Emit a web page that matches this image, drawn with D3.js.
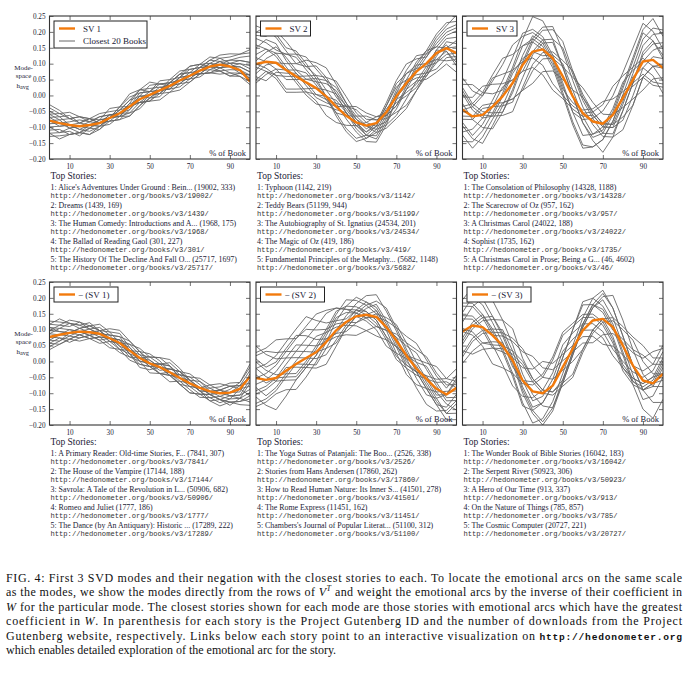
<!DOCTYPE html>
<html>
<head>
<meta charset="utf-8">
<script src="https://cdn.jsdelivr.net/npm/d3@7"></script>
<style>
body { margin: 0; background: #fff; }
svg text { font-family: "Liberation Serif", "Times New Roman", serif; }
svg text.mono, svg tspan.mono { font-family: "Liberation Mono", "DejaVu Sans Mono", monospace; }
</style>
</head>
<body>
<div id="svgdiv"></div>
<script>
// % of book sample points
var pct = [0,5,10,15,20,25,30,35,40,45,50,55,60,65,70,75,80,85,90,95,100];
var yTicks = [-0.20,-0.15,-0.10,-0.05,0.00,0.05,0.10,0.15,0.20,0.25];
var xTicks = [10,30,50,70,90];

// modes (orange)
var sv1  = [-0.079,-0.087,-0.093,-0.097,-0.093,-0.087,-0.071,-0.056,-0.035,-0.012,0.002,0.016,0.030,0.047,0.062,0.078,0.091,0.097,0.091,0.080,0.044];
var sv2  = [0.099,0.106,0.103,0.080,0.060,0.041,0.023,-0.003,-0.035,-0.064,-0.085,-0.095,-0.087,-0.053,-0.003,0.039,0.075,0.101,0.133,0.149,0.133];
var sv3  = [-0.045,-0.066,-0.061,-0.035,-0.003,0.039,0.096,0.138,0.145,0.117,0.060,-0.003,-0.056,-0.082,-0.089,-0.061,-0.008,0.049,0.107,0.112,0.086];
var nsv1 = [0.077,0.084,0.090,0.094,0.092,0.087,0.073,0.058,0.034,0.011,-0.006,-0.018,-0.034,-0.052,-0.069,-0.083,-0.094,-0.100,-0.098,-0.086,-0.048];
var nsv2 = [-0.052,-0.058,-0.052,-0.029,-0.008,0.011,0.029,0.061,0.098,0.124,0.142,0.147,0.140,0.108,0.066,0.019,-0.023,-0.055,-0.086,-0.104,-0.083];
var nsv3 = [0.094,0.113,0.108,0.082,0.050,0.003,-0.060,-0.094,-0.100,-0.076,-0.018,0.040,0.098,0.129,0.134,0.108,0.050,-0.013,-0.060,-0.069,-0.039];

// closest books, as offsets from the mode in hundredths
var off1 = [
 [3,2,3,1,2,0,1,-1,0,2,1,0,-1,1,0,-1,0,1,2,3,6],
 [-4,-3,-2,-3,-1,-2,0,1,2,1,3,2,1,0,-1,-2,-1,0,1,2,4],
 [5,4,2,3,1,2,1,0,-2,-1,0,-1,0,1,2,1,2,3,4,5,9],
 [-2,-3,-1,0,-1,1,0,2,3,2,1,3,2,1,0,-1,-2,-3,-2,-1,1],
 [1,0,-1,-2,-3,-2,-1,-2,-3,-2,-1,0,1,2,1,0,1,-1,0,1,3],
 [-5,-4,-3,-2,-1,0,1,0,-1,0,1,2,0,-1,-2,-1,0,1,0,-1,2],
 [2,3,4,3,2,1,0,-1,1,3,4,2,1,2,3,2,1,0,2,4,8],
 [0,-1,0,1,2,3,2,1,0,-1,-2,-3,-2,-1,0,1,0,-1,-2,-2,0],
 [-3,-2,-3,-2,0,-1,-2,-1,0,-1,-2,-1,-2,-3,-2,-1,-2,-1,0,1,3],
 [4,3,2,1,0,-1,0,1,2,3,2,1,0,-1,0,1,2,1,0,2,5],
 [-1,0,1,2,1,0,-1,-2,-1,1,0,-1,1,2,1,-1,-2,-2,-1,0,2],
 [1,2,0,-1,-2,-1,0,2,4,3,1,0,-1,0,1,2,3,2,3,5,10],
 [-4,-5,-3,-2,-3,-1,0,-1,-2,-3,-1,0,1,0,-1,0,-1,-2,-3,-2,-1],
 [2,1,2,3,2,0,-1,0,1,-1,-2,0,2,3,2,1,0,-1,1,3,6],
 [0,1,-1,0,1,2,1,-1,-3,-2,0,1,-1,-2,-1,0,1,2,1,0,1],
 [-2,-1,0,-1,0,1,3,2,0,1,-1,-2,0,1,3,2,0,-2,-3,-1,2]
];
var off2 = [
 [8,6,4,5,7,8,6,5,3,2,0,-2,-1,2,4,3,1,-1,-3,-2,0],
 [-5,-3,-4,-6,-4,-2,0,2,4,3,1,0,-2,-4,-6,-5,-3,-1,1,3,5],
 [12,10,8,6,4,5,7,6,4,1,-2,-4,-3,-1,1,0,-2,-4,-3,0,4],
 [2,0,-2,-3,-1,1,3,5,6,4,2,3,1,-2,-5,-7,-6,-4,-2,-1,-3],
 [-2,1,3,5,6,4,2,0,-3,-5,-6,-4,-2,0,2,4,5,3,2,4,7],
 [5,7,6,3,1,-1,-3,-2,0,3,5,4,2,-1,-3,-2,0,2,4,6,9],
 [0,-2,-4,-2,0,2,4,6,8,6,3,1,-1,-3,-4,-2,-3,-5,-6,-5,-6],
 [-6,-4,-2,0,2,3,1,-1,-2,0,2,0,-3,-5,-7,-8,-6,-3,-1,2,3],
 [9,8,10,9,7,5,4,2,1,-1,-3,-5,-6,-4,-1,1,3,4,6,8,10],
 [3,4,2,0,-2,-4,-5,-3,-1,1,-1,-3,-4,-2,1,3,2,0,-2,-4,-2],
 [-3,-1,0,2,4,7,8,9,7,4,1,-1,0,2,3,1,-1,-3,-5,-3,-1],
 [6,4,3,1,-1,-3,-2,0,2,1,-1,-2,0,3,5,6,4,2,3,5,8],
 [-1,-3,-5,-7,-5,-3,-4,-6,-5,-3,-1,1,2,0,-2,-4,-5,-3,0,1,-2],
 [10,11,9,7,8,6,3,0,-2,-4,-5,-3,-1,1,0,-1,1,3,5,7,12],
 [1,3,5,4,2,1,2,4,5,3,0,-3,-5,-3,-1,-3,-4,-2,1,-1,-4],
 [-4,-6,-3,-1,1,0,-2,-1,1,3,4,2,1,-1,-3,-1,2,4,2,0,2]
];
var off3 = [
 [10,8,6,8,10,12,9,6,3,0,-3,-5,-2,1,4,6,8,10,12,9,6],
 [-8,-10,-7,-4,-2,-5,-8,-10,-7,-4,-1,2,5,3,0,-3,-6,-8,-5,-2,0],
 [4,6,9,7,4,1,-2,0,3,6,9,7,4,1,-3,-6,-4,-1,2,5,8],
 [-3,-1,2,0,-3,-6,-4,-1,2,5,3,0,-3,-6,-9,-7,-4,-1,3,6,4],
 [7,4,1,-2,-5,-3,0,3,6,9,11,8,5,2,-1,-4,-2,1,-2,-5,-8],
 [-10,-8,-5,-2,1,4,6,4,1,-2,-5,-8,-10,-8,-5,-2,1,4,7,10,12],
 [2,-1,-4,-7,-5,-2,1,4,7,10,8,5,2,-1,-4,-7,-10,-8,-5,-2,1],
 [0,3,6,9,7,4,1,-2,-5,-8,-6,-3,0,3,6,9,7,4,1,-2,-4],
 [-5,-7,-9,-6,-3,0,3,5,2,-1,-4,-2,1,4,7,5,2,-1,-4,-7,-5],
 [8,10,7,4,2,5,8,11,9,6,3,0,-3,-5,-3,0,3,6,9,6,3],
 [-2,0,3,1,-2,-5,-8,-6,-3,0,3,6,8,6,3,0,-3,-6,-9,-6,-3],
 [5,2,-1,2,5,8,10,7,4,1,-2,-5,-7,-4,-1,2,5,3,0,3,7],
 [-7,-4,-1,-3,-6,-9,-7,-4,-1,2,5,8,6,3,0,-3,-1,2,5,8,11],
 [1,4,7,10,12,9,6,3,0,-3,-6,-9,-11,-8,-5,-2,1,-2,-5,-8,-6],
 [-4,-6,-3,0,3,1,-2,-5,-8,-10,-7,-4,-1,2,-1,-4,-7,-5,-2,1,3],
 [6,3,0,-3,0,3,2,0,-2,1,4,2,-1,-4,-2,1,4,7,10,13,10]
];
var off4 = [
 [4,3,2,3,1,0,-1,0,2,1,0,-1,1,2,1,0,-1,-2,-3,-4,-6],
 [-3,-2,-1,0,1,2,1,-1,-2,-1,0,1,2,1,0,-1,0,1,2,1,-2],
 [5,4,3,2,3,1,0,-1,0,1,2,3,2,0,-1,-2,-3,-2,-1,-3,-8],
 [-2,-3,-2,-1,0,-1,-2,-3,-2,0,1,0,-1,-2,-1,0,1,2,3,2,3],
 [1,2,3,2,1,0,1,2,3,2,1,0,-1,-2,-3,-2,-1,0,-1,-2,-4],
 [3,1,0,-1,-2,-1,0,1,0,-1,-3,-2,0,1,2,3,2,1,0,1,2],
 [-1,0,1,0,-1,-2,-3,-2,-1,0,2,3,4,3,1,0,-1,-2,-3,-5,-9],
 [2,3,4,3,2,1,2,3,1,0,-1,-2,-1,0,1,2,1,0,1,2,4],
 [0,-1,-2,-3,-2,-1,0,1,2,3,2,1,0,-1,-2,-3,-2,-1,-2,-3,-5],
 [-4,-3,-2,-1,-2,-3,-1,0,1,0,-1,0,1,2,3,2,0,-1,0,-1,1],
 [2,1,0,1,2,3,2,0,-1,-2,-1,1,2,0,-1,0,2,3,2,0,-3],
 [-2,-1,-3,-2,-1,0,1,2,0,-1,0,-2,-3,-1,0,-1,-2,-3,-2,0,-6],
 [4,5,3,1,0,1,3,4,3,2,0,1,3,2,0,-1,0,1,-1,-2,-1],
 [1,0,-1,-2,-1,1,0,-2,-3,-2,-1,-2,-1,1,2,1,-1,-2,-4,-3,-2],
 [-1,-2,0,1,2,1,-1,-2,0,2,3,2,0,-2,-3,-2,-1,1,2,1,0],
 [3,2,1,0,-1,-2,0,1,-1,-3,-2,0,1,2,1,-1,-3,-4,-3,-4,-7]
];
var off5 = [
 [8,10,12,10,8,9,7,4,2,0,-2,-1,1,3,5,4,2,0,-2,0,3],
 [-6,-8,-10,-8,-5,-3,-1,1,-1,-3,-2,0,2,0,-2,-4,-6,-8,-7,-5,-4],
 [3,5,7,9,11,13,10,6,3,1,2,4,3,1,-1,-3,-1,1,3,5,6],
 [-3,-5,-3,-1,1,3,5,3,1,-1,-3,-5,-6,-4,-2,0,2,4,2,-1,-3],
 [5,3,1,-1,-3,-1,2,4,6,5,3,1,-1,-3,-5,-3,-1,-3,-5,-8,-10],
 [-9,-7,-5,-6,-8,-6,-3,0,3,5,6,4,2,0,1,3,5,3,1,-2,-4],
 [1,-1,0,2,4,6,8,9,7,4,1,-1,-3,-1,2,4,6,7,5,3,1],
 [10,8,6,4,2,0,-2,-4,-3,-1,1,3,5,6,4,2,0,-2,-4,-6,-5],
 [-2,0,2,4,6,4,2,0,-2,-4,-6,-5,-3,-1,1,-1,-3,-5,-3,0,2],
 [6,4,5,7,9,7,4,1,-1,0,2,1,-1,-3,-2,0,3,5,7,5,2],
 [-5,-3,-1,1,-1,-3,-5,-7,-5,-2,0,2,4,2,0,-2,-1,1,-1,-3,-7],
 [0,2,4,6,8,10,12,10,7,4,2,0,-2,-4,-6,-4,-2,0,2,4,0],
 [-8,-6,-4,-2,0,-2,-4,-2,0,2,4,6,7,5,3,1,-1,-3,-5,-4,-2],
 [3,1,-1,-3,-5,-3,-1,2,4,3,1,-1,0,2,4,6,8,6,4,2,4],
 [-4,-2,0,-2,-4,-2,1,3,5,7,5,3,1,-1,-4,-6,-5,-3,-1,1,-1],
 [7,9,8,6,4,2,0,-2,-4,-2,0,-2,-4,-6,-4,-1,1,-1,-3,-6,-8]
];
var off6 = [
 [-8,-5,-2,1,4,7,10,8,5,2,-1,-4,-6,-3,0,3,6,9,11,8,5],
 [10,12,9,6,3,0,-3,-6,-9,-7,-4,-1,2,5,3,0,-3,-6,-9,-11,-8],
 [-3,0,3,6,4,1,-2,-5,-3,0,3,6,9,7,4,1,-2,-5,-3,0,3],
 [5,3,0,-3,-6,-8,-5,-2,1,4,7,5,2,-1,-4,-7,-5,-2,1,4,7],
 [0,-3,-6,-9,-7,-4,-1,2,5,8,10,7,4,1,-2,-5,-8,-6,-3,0,-2],
 [8,6,3,0,3,6,9,11,8,5,2,-1,-4,-7,-5,-2,1,4,7,10,8],
 [-6,-9,-7,-4,-1,2,5,3,0,-3,-6,-9,-7,-4,-1,2,5,8,6,3,0],
 [3,6,9,11,8,5,2,-1,-4,-7,-5,-2,1,4,7,10,8,5,2,-1,-4],
 [-10,-8,-5,-2,1,-1,-4,-7,-10,-8,-5,-2,1,4,6,3,0,-3,-6,-4,-1],
 [6,9,7,4,1,-2,0,3,6,9,11,8,5,2,-1,-4,-7,-5,-2,1,4],
 [1,-2,-5,-3,0,3,6,4,1,-2,-4,-1,2,5,8,6,3,0,-3,-6,-9],
 [-4,-1,2,5,8,10,7,4,1,-2,-5,-8,-6,-3,0,-3,-6,-4,-1,2,5],
 [9,7,4,1,-2,-5,-8,-6,-3,0,3,6,8,5,2,-1,2,5,8,6,3],
 [-2,1,4,2,-1,-4,-7,-10,-8,-5,-2,1,4,7,9,6,3,0,-3,-1,2],
 [4,2,-1,-4,-2,1,4,7,10,7,4,1,-2,-5,-8,-6,-3,0,3,6,9],
 [-7,-4,-1,2,5,3,0,-3,-1,2,5,3,0,-3,-6,-9,-7,-4,-1,2,0]
];

var legendNames = ["SV 1", "SV 2", "SV 3", "\u2212 (SV 1)", "\u2212 (SV 2)", "\u2212 (SV 3)"];

// top stories: title, gutenberg id, downloads
var stories1 = [["Alice's Adventures Under Ground : Bein...", 19002, 333], ["Dreams", 1439, 169], ["The Human Comedy: Introductions and A...", 1968, 175], ["The Ballad of Reading Gaol", 301, 227], ["The History Of The Decline And Fall O...", 25717, 1697]];
var stories2 = [["Typhoon", 1142, 219], ["Teddy Bears", 51199, 944], ["The Autobiography of St. Ignatius", 24534, 201], ["The Magic of Oz", 419, 186], ["Fundamental Principles of the Metaphy...", 5682, 1148]];
var stories3 = [["The Consolation of Philosophy", 14328, 1188], ["The Scarecrow of Oz", 957, 162], ["A Christmas Carol", 24022, 188], ["Sophist", 1735, 162], ["A Christmas Carol in Prose; Being a G...", 46, 4602]];
var stories4 = [["A Primary Reader: Old-time Stories, F...", 7841, 307], ["The House of the Vampire", 17144, 188], ["Savrola: A Tale of the Revolution in L...", 50906, 682], ["Romeo and Juliet", 1777, 186], ["The Dance (by An Antiquary): Historic ...", 17289, 222]];
var stories5 = [["The Yoga Sutras of Patanjali: The Boo...", 2526, 338], ["Stories from Hans Andersen", 17860, 262], ["How to Read Human Nature: Its Inner S...", 41501, 278], ["The Rome Express", 11451, 162], ["Chambers's Journal of Popular Literat...", 51100, 312]];
var stories6 = [["The Wonder Book of Bible Stories", 16042, 183], ["The Serpent River", 50923, 306], ["A Hero of Our Time", 913, 337], ["On the Nature of Things", 785, 857], ["The Cosmic Computer", 20727, 221]];

var caption = [
  "FIG. 4:  First 3 SVD modes and their negation with the closest stories to each.  To locate the emotional arcs on the same scale",
  "as the modes, we show the modes directly from the rows of V| and weight the emotional arcs by the inverse of their coefficient in",
  "W for the particular mode.  The closest stories shown for each mode are those stories with emotional arcs which have the greatest",
  "coefficient in W.  In parenthesis for each story is the Project Gutenberg ID and the number of downloads from the Project",
  "Gutenberg website, respectively.  Links below each story point to an interactive visualization on |",
  "which enables detailed exploration of the emotional arc for the story."
];

var modes = [sv1, sv2, sv3, nsv1, nsv2, nsv3];
var offs = [off1, off2, off3, off4, off5, off6];
var storyLists = [stories1, stories2, stories3, stories4, stories5, stories6];

var width = 688, height = 675;
var svg = d3.select("#svgdiv").append("svg").attr("width", width).attr("height", height);

var colX = [49.5, 256, 462.5];
var rowY = [16, 282];
var pw = 200.5, ph = 143;
var orange = "#f27a0c", grey = "#666666", ink = "#222236";

var x = d3.scaleLinear().domain([0, 100]).range([0, pw]);
var y = d3.scaleLinear().domain([-0.20, 0.25]).range([ph, 0]);
var line = d3.line().x(function(d){ return x(d[0]); }).y(function(d){ return y(d[1]); });

for (let p = 0; p < 6; ++p)
{
    let col = p % 3, row = Math.floor(p / 3);
    let g = svg.append("g").attr("transform", "translate(" + colX[col] + "," + rowY[row] + ")");

    g.append("clipPath").attr("id", "clip" + p)
     .append("rect").attr("width", pw).attr("height", ph);

    let lines = g.append("g").attr("clip-path", "url(#clip" + p + ")");
    let mode = modes[p];

    // closest books
    offs[p].forEach(function(o){
        let pts = pct.map(function(v, i){ return [v, mode[i] + o[i] / 100]; });
        lines.append("path").attr("d", line(pts))
             .attr("fill", "none").attr("stroke", grey).attr("stroke-width", 0.9);
    });

    // the mode itself
    lines.append("path").attr("d", line(pct.map(function(v, i){ return [v, mode[i]]; })))
         .attr("fill", "none").attr("stroke", orange).attr("stroke-width", 2.4)
         .attr("stroke-linejoin", "round");

    // inward ticks on all four sides
    let axes = [
        d3.axisBottom(x).tickValues(xTicks).tickSize(-4),
        d3.axisTop(x).tickValues(xTicks).tickSize(-4),
        d3.axisLeft(y).tickValues(yTicks).tickSize(-4).tickFormat(d3.format(".2f")),
        d3.axisRight(y).tickValues(yTicks).tickSize(-4)
    ];
    let shift = ["translate(0," + ph + ")", null, null, "translate(" + pw + ",0)"];
    axes.forEach(function(a, k){
        let ag = g.append("g").attr("transform", shift[k]).call(a);
        ag.select(".domain").remove();
        ag.selectAll(".tick line").attr("stroke", "#333").attr("stroke-width", 0.7);
        ag.selectAll("text").attr("fill", ink).style("font-size", "7.2px")
          .style("font-family", "Liberation Serif, serif");
        if (k == 1 || k == 3 || (k == 2 && col != 0)) ag.selectAll("text").remove();
        if (k == 0) ag.selectAll("text").attr("y", 0).attr("dy", 0).attr("transform", "translate(0,10)");
        if (k == 2) ag.selectAll("text").attr("x", -4);
    });

    g.append("rect").attr("width", pw).attr("height", ph)
     .attr("fill", "none").attr("stroke", "#333").attr("stroke-width", 1.1);

    g.append("text").text("% of Book")
     .attr("x", pw - 4).attr("y", ph - 3.5)
     .attr("text-anchor", "end").attr("fill", ink).style("font-size", "8.5px");

    // legend
    let lw = (p == 0) ? 93 : (p < 3 ? 50 : 64);
    let lh = (p == 0) ? 27 : 15;
    let leg = g.append("g").attr("transform", "translate(4.5,5)");
    leg.append("rect").attr("width", lw).attr("height", lh)
       .attr("fill", "#fff").attr("stroke", "#222").attr("stroke-width", 1);
    leg.append("line").attr("x1", 5).attr("x2", 21).attr("y1", 7.5).attr("y2", 7.5)
       .attr("stroke", orange).attr("stroke-width", 2.4);
    leg.append("text").text(legendNames[p])
       .attr("x", p < 3 ? 29 : 24).attr("y", 10.5).attr("fill", ink).style("font-size", "9px");
    if (p == 0)
    {
        leg.append("line").attr("x1", 5).attr("x2", 21).attr("y1", 20).attr("y2", 20)
           .attr("stroke", grey).attr("stroke-width", 1);
        leg.append("text").text("Closest 20 Books")
           .attr("x", 29).attr("y", 23).attr("fill", ink).style("font-size", "9px");
    }

    // y label on left column
    if (col == 0)
    {
        let yl = svg.append("g").attr("transform", "translate(23.5," + rowY[row] + ")")
                    .attr("fill", ink).style("font-size", "7px");
        yl.append("text").text("Mode-").attr("y", 53.5).attr("text-anchor", "middle");
        yl.append("text").text("space").attr("y", 62).attr("text-anchor", "middle");
        let h = yl.append("text").attr("x", -7).attr("y", 71.5);
        h.append("tspan").text("h");
        h.append("tspan").text("avg").attr("dy", 1.8).style("font-size", "6.2px");
    }

    // top stories
    let tx = colX[col] + 1, ty = rowY[row] + ph;
    svg.append("text").text("Top Stories:")
       .attr("x", tx).attr("y", ty + 19.5).attr("fill", ink).style("font-size", "9.5px");
    storyLists[p].forEach(function(s, i){
        svg.append("text")
           .text((i + 1) + ": " + s[0] + " (" + s[1] + ", " + s[2] + ")")
           .attr("x", tx).attr("y", ty + 31 + 18 * i)
           .attr("fill", ink).style("font-size", "7.9px");
        let url = "http://hedonometer.org/books/v3/" + s[1] + "/";
        svg.append("text").attr("class", "mono").text(url)
           .attr("x", tx).attr("y", ty + 39 + 18 * i)
           .attr("textLength", url.length * 4.28).attr("lengthAdjust", "spacingAndGlyphs")
           .attr("fill", "#333").style("font-size", "7.8px");
    });
}

// caption
var cap = svg.append("g").attr("fill", "#111").style("font-size", "12px");
caption.forEach(function(c, i){
    let t = cap.append("text").attr("x", 6).attr("y", 582 + 14.4 * i);
    if (i == 1)
    {
        t.append("tspan").text("as the modes, we show the modes directly from the rows of ");
        t.append("tspan").text("V").style("font-style", "italic");
        t.append("tspan").text("T").attr("dy", -5).style("font-size", "8px").style("font-style", "italic");
        t.append("tspan").text(" and weight the emotional arcs by the inverse of their coefficient in").attr("dy", 5);
    }
    else if (i == 2)
    {
        t.append("tspan").text("W").style("font-style", "italic");
        t.append("tspan").text(c.slice(1));
    }
    else if (i == 3)
    {
        t.append("tspan").text("coefficient in ");
        t.append("tspan").text("W").style("font-style", "italic");
        t.append("tspan").text(c.slice(16));
    }
    else if (i == 4)
    {
        t.append("tspan").text(c.slice(0, c.length - 1));
        t.append("tspan").text("http://hedonometer.org").attr("class", "mono")
         .style("font-weight", "bold").style("font-size", "9.6px");
    }
    else t.text(c);
    if (i < 5) t.attr("textLength", 676).attr("lengthAdjust", "spacing");
});
</script>
</body>
</html>
